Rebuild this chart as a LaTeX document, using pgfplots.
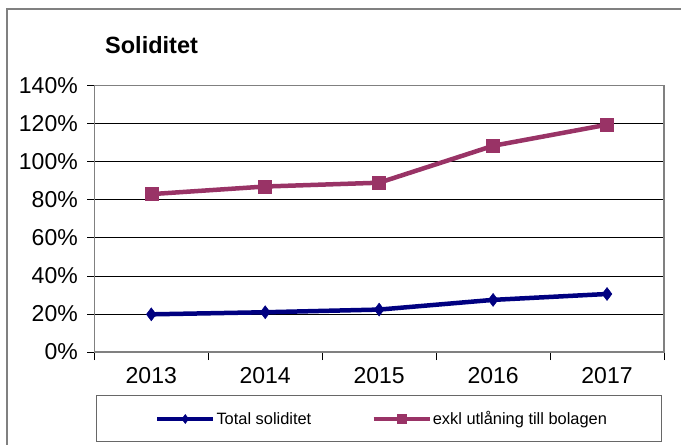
\documentclass[border=0pt]{standalone}
\usepackage{fontspec}
\setmainfont{Liberation Sans}
\usepackage{pgfplots}
\pgfplotsset{compat=1.18}
\definecolor{navyc}{HTML}{000080}
\definecolor{plumc}{HTML}{993366}
\definecolor{framec}{HTML}{808080}
\begin{document}
\begin{tikzpicture}[x=1pt,y=1pt]
\path[use as bounding box] (0,0) rectangle (681,445);
\draw[framec, line width=1.2pt] (7,0) -- (7,436) -- (681,436);
\node[anchor=west, font=\fontsize{23.5}{27}\selectfont\bfseries, inner sep=0pt] at (105,400) {Soliditet};
\draw[framec!80!black, line width=1pt] (96,3) rectangle (661,49);
\begin{axis}[
  at={(94.3pt,93pt)}, anchor=south west, scale only axis,
  width=569.7pt, height=266.3pt,
  xmin=-0.5, xmax=4.5, ymin=0, ymax=140,
  xtick={0,1,2,3,4}, xticklabels={2013,2014,2015,2016,2017},
  minor xtick={-0.5,0.5,1.5,2.5,3.5,4.5},
  ytick={0,20,40,60,80,100,120,140},
  yticklabels={0\%,20\%,40\%,60\%,80\%,100\%,120\%,140\%},
  tick align=outside, major tick length=7pt, minor tick length=8pt,
  major x tick style={draw=none},
  tick pos=left,
  ymajorgrids, major grid style={black, line width=0.8pt},
  axis line style={framec, line width=1.5pt},
  tick style={black, line width=0.8pt},
  ticklabel style={font=\fontsize{23}{27}\selectfont},
  yticklabel style={xshift=-6pt},
  xticklabel style={yshift=-5pt},
  legend style={at={(0.505,-0.2516)}, anchor=center, draw=none, fill=none,
    font=\fontsize{16.4}{19}\selectfont,
    /tikz/every odd column/.append style={column sep=-1pt},
    /tikz/every even column/.append style={column sep=58pt}},
  legend columns=2,
  legend image code/.code={\draw[mark repeat=2,mark phase=2,#1,mark size=4.5pt] plot coordinates {(0pt,0pt)(28pt,0pt)(56pt,0pt)};},
]
\addplot[navyc, line width=4.5pt, mark=diamond*, mark size=6.5pt, mark options={solid, fill=navyc, draw=navyc, line width=0.5pt}]
  coordinates {(0,19.8) (1,20.9) (2,22.3) (3,27.4) (4,30.5)};
\addlegendentry{Total soliditet}
\addplot[plumc, line width=4.5pt, mark=square*, mark size=6.5pt, mark options={solid, fill=plumc, draw=plumc, line width=0.5pt}]
  coordinates {(0,83) (1,87) (2,89) (3,108.4) (4,119.5)};
\addlegendentry{exkl utlåning till bolagen}
\end{axis}
\end{tikzpicture}
\end{document}
